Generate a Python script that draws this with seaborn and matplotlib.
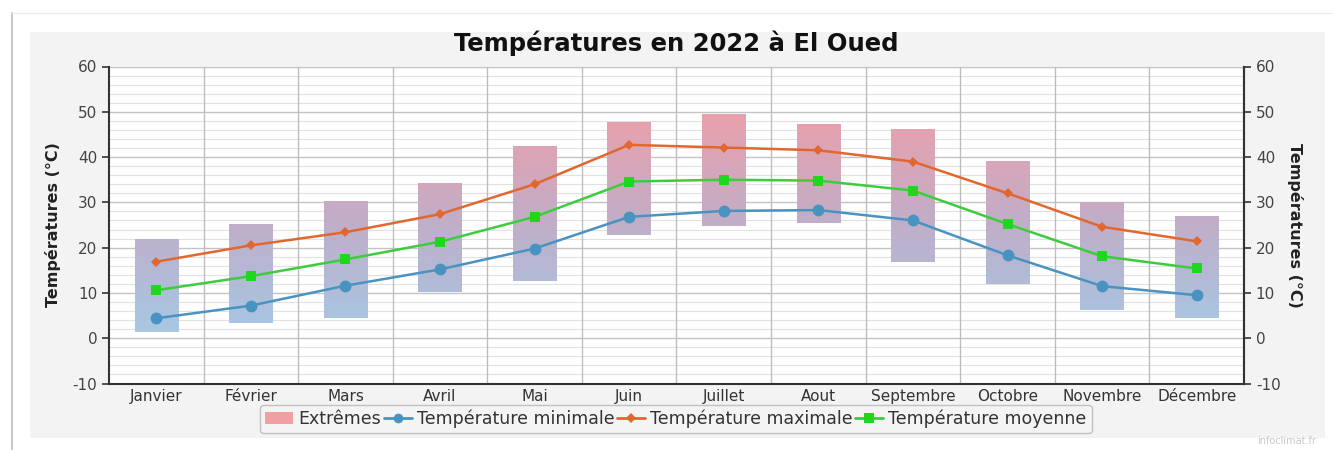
import numpy as np
import pandas as pd
import seaborn as sns
import matplotlib.pyplot as plt
from matplotlib.colors import LinearSegmentedColormap
from matplotlib.patches import Rectangle, Patch
from matplotlib.lines import Line2D

# Monthly temperatures for El Oued, 2022
months = ["Janvier", "Février", "Mars", "Avril", "Mai", "Juin",
          "Juillet", "Aout", "Septembre", "Octobre", "Novembre", "Décembre"]
t_min = [4.4, 7.2, 11.6, 15.2, 19.8, 26.8, 28.1, 28.3, 26.0, 18.3, 11.5, 9.5]
t_max = [16.9, 20.5, 23.4, 27.4, 34.0, 42.7, 42.1, 41.5, 39.0, 32.0, 24.6, 21.4]
t_moy = [10.6, 13.7, 17.4, 21.3, 26.8, 34.6, 35.0, 34.8, 32.6, 25.2, 18.1, 15.4]
ext_low = [1.3, 3.4, 4.4, 10.3, 12.6, 22.8, 24.8, 25.5, 16.9, 11.9, 6.3, 4.4]
ext_high = [21.9, 25.2, 30.2, 34.2, 42.4, 47.7, 49.6, 47.2, 46.3, 39.2, 30.0, 27.0]

df = pd.DataFrame({"mois": months, "min": t_min, "max": t_max, "moy": t_moy,
                   "bas": ext_low, "haut": ext_high})
df["pos"] = np.arange(len(df))

sns.set_style("white")
plt.rcParams["font.family"] = ["DejaVu Sans"]
plt.rcParams["axes.unicode_minus"] = False

fig = plt.figure(figsize=(13.33, 4.5), dpi=100)

# grey panel behind the chart, like the web widget
fig.patches.append(Rectangle((30 / 1333, 1 - 438 / 450), 1295 / 1333, 406 / 450,
                             transform=fig.transFigure, facecolor="#f3f3f3",
                             edgecolor="none", zorder=-10))
fig.add_artist(Line2D([12 / 1333, 12 / 1333], [0, 1 - 13 / 450], color="#c8c8c8", lw=1.5))
fig.add_artist(Line2D([12 / 1333, 1], [1 - 13 / 450, 1 - 13 / 450], color="#ececec", lw=1))

ax = fig.add_axes([109 / 1333, 1 - 383.5 / 450, 1135 / 1333, 317 / 450])
ax.set_facecolor("white")

ymin, ymax = -10, 60

# extremes: floating bars filled with a blue -> pink vertical gradient
grad = LinearSegmentedColormap.from_list("ext", [
    (0.0, (0.58, 0.78, 0.92)),
    (0.14, (0.65, 0.79, 0.90)),
    (0.36, (0.71, 0.72, 0.83)),
    (0.52, (0.76, 0.68, 0.78)),
    (0.70, (0.85, 0.65, 0.72)),
    (0.85, (0.91, 0.63, 0.67)),
    (1.0, (0.92, 0.62, 0.65)),
])
bars = ax.bar(df["pos"], df["haut"] - df["bas"], bottom=df["bas"], width=0.46,
              color="none", edgecolor="none", zorder=2)
gvals = np.linspace(0, 1, 256).reshape(-1, 1)
for b in bars:
    x0 = b.get_x()
    im = ax.imshow(gvals, cmap=grad, origin="lower", aspect="auto",
                   extent=[x0, x0 + b.get_width(), ymin, ymax], zorder=2)
    im.set_clip_path(b)
ax.set_xlim(-0.5, len(months) - 0.5)
ax.set_ylim(ymin, ymax)

c_min = "#4893bf"
c_max = "#e2672f"
c_moy = "#3dcc3d"
sns.lineplot(data=df, x="pos", y="max", ax=ax, color=c_max, lw=1.8, marker="D",
             markersize=5.5, markeredgewidth=0, zorder=4)
sns.lineplot(data=df, x="pos", y="moy", ax=ax, color=c_moy, lw=1.8, marker="s",
             markersize=7.5, markerfacecolor="#1ed81e", markeredgewidth=0, zorder=4)
sns.lineplot(data=df, x="pos", y="min", ax=ax, color=c_min, lw=1.8, marker="o",
             markersize=8.5, markeredgewidth=0, zorder=4)

# grid
ax.set_yticks(np.arange(-10, 61, 10))
ax.set_yticks(np.arange(-10, 61, 2), minor=True)
ax.grid(axis="y", which="major", color="#c3c3c3", lw=1, zorder=0)
ax.grid(axis="y", which="minor", color="#e1e1e1", lw=0.8, zorder=0)
for xb in np.arange(0.5, len(months) - 0.5, 1):
    ax.axvline(xb, color="#bdbdbd", lw=1, zorder=1)
ax.set_axisbelow(True)

# x axis: labels at centres, tick marks at boundaries
ax.set_xticks(df["pos"])
ax.set_xticklabels(months, fontsize=11, color="#333333")
ax.set_xticks(np.arange(-0.5, len(months), 1), minor=True)
ax.tick_params(axis="x", which="major", length=0, pad=4)
ax.tick_params(axis="x", which="minor", length=6, width=1.5, color="#333333", direction="out")
ax.tick_params(axis="y", which="major", length=5, width=1.2, color="#333333",
               labelsize=11, labelcolor="#444444", left=True, direction="out")
ax.tick_params(axis="y", which="minor", length=0)

for s in ["left", "bottom", "right"]:
    ax.spines[s].set_color("#333333")
    ax.spines[s].set_linewidth(1.5)
ax.spines["top"].set_visible(False)

ax.set_xlabel("")
ax.set_ylabel("Températures (°C)", fontsize=11.5, fontweight="bold", color="#222222", labelpad=8)

ax2 = ax.twinx()
ax2.set_ylim(ymin, ymax)
ax2.set_yticks(np.arange(-10, 61, 10))
ax2.tick_params(axis="y", length=5, width=1.2, color="#333333", labelsize=11,
                labelcolor="#444444", direction="out")
for s in ["left", "bottom", "top"]:
    ax2.spines[s].set_visible(False)
ax2.spines["right"].set_color("#333333")
ax2.spines["right"].set_linewidth(1.5)
ax2.set_ylabel("Températures (°C)", fontsize=11.5, fontweight="bold", color="#222222",
               rotation=270, labelpad=16)

fig.text(676 / 1333, 1 - 43 / 450, "Températures en 2022 à El Oued", ha="center",
         va="center", fontsize=17.5, fontweight="bold", color="#111111")

handles = [
    Patch(facecolor="#f0a0a2", edgecolor="none"),
    Line2D([], [], color=c_min, lw=2, marker="o", markersize=7, markeredgewidth=0),
    Line2D([], [], color=c_max, lw=2, marker="D", markersize=5, markeredgewidth=0),
    Line2D([], [], color=c_moy, lw=2, marker="s", markersize=6.5,
           markerfacecolor="#1ed81e", markeredgewidth=0),
]
labels = ["Extrêmes", "Température minimale", "Température maximale", "Température moyenne"]
leg = fig.legend(handles, labels, loc="center", bbox_to_anchor=(676 / 1333, 1 - 419 / 450),
                 ncol=4, fontsize=12.5, frameon=True, handlelength=1.6, handletextpad=0.3,
                 columnspacing=0.15, borderpad=0.3, fancybox=True, labelcolor="#333333")
leg.get_frame().set_edgecolor("#b5b5b5")
leg.get_frame().set_facecolor("#f5f5f5")

fig.text(1316 / 1333, 1 - 441 / 450, "infoclimat.fr", ha="right", va="center",
         fontsize=7, color="#c8c8c8")

fig.savefig("out.png", dpi=100, facecolor="white")
